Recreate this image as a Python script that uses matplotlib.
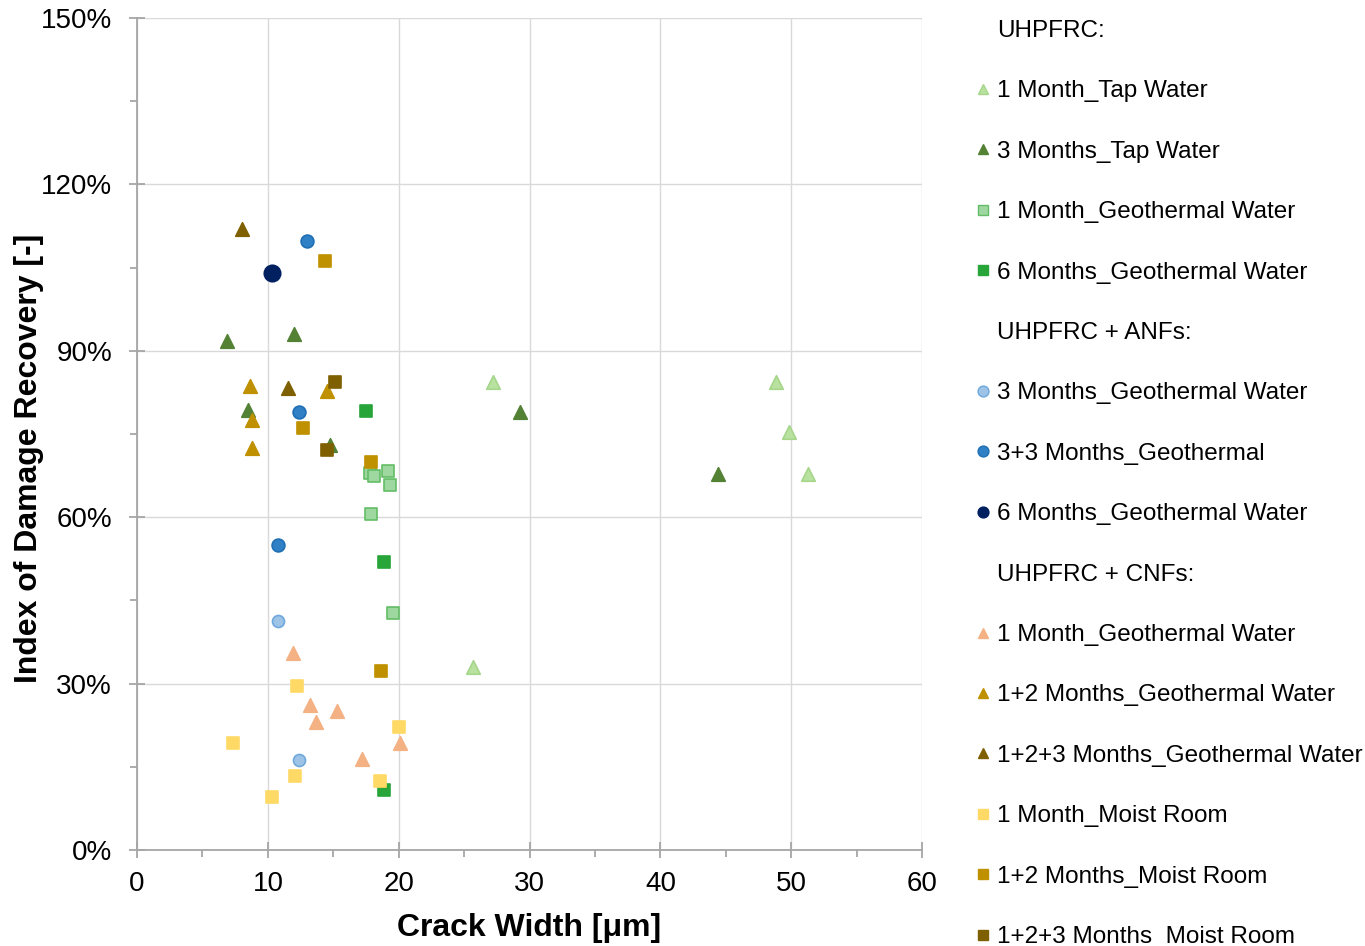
import matplotlib
matplotlib.use("Agg")
import matplotlib.pyplot as plt
from matplotlib.lines import Line2D
from matplotlib.ticker import MultipleLocator, FuncFormatter

plt.rcParams["font.family"] = ["Liberation Sans", "DejaVu Sans"]

# ---- data: crack width [um] vs. index of damage recovery [%] ----
# UHPFRC
tap1_x = [27.2, 48.8, 49.8, 51.3, 25.7]
tap1_y = [84.3, 84.3, 75.3, 67.8, 32.9]
tap3_x = [6.9, 12.0, 8.5, 14.75, 29.3, 44.4]
tap3_y = [91.7, 93.0, 79.4, 73.1, 79.0, 67.8]
geo1_x = [19.2, 17.8, 18.1, 19.35, 17.85, 19.55]
geo1_y = [68.4, 68.0, 67.4, 65.8, 60.5, 42.8]
geo6_x = [17.5, 18.9, 18.9]
geo6_y = [79.1, 52.0, 10.8]
# UHPFRC + ANFs
anf3_x = [10.75, 12.4]
anf3_y = [41.3, 16.3]
anf33_x = [13.0, 12.4, 10.75]
anf33_y = [109.8, 78.9, 54.9]
anf6_x = [10.3]
anf6_y = [104.1]
# UHPFRC + CNFs
cnf_geo1_x = [11.95, 13.2, 15.3, 13.65, 20.1, 17.2]
cnf_geo1_y = [35.5, 26.1, 25.1, 23.0, 19.2, 16.4]
cnf_geo12_x = [8.6, 14.5, 8.8, 8.8]
cnf_geo12_y = [83.7, 82.7, 77.6, 72.4]
cnf_geo123_x = [8.0, 11.55]
cnf_geo123_y = [111.9, 83.3]
cnf_moist1_x = [12.2, 20.05, 7.35, 12.1, 18.6, 10.3]
cnf_moist1_y = [29.6, 22.2, 19.2, 13.4, 12.4, 9.6]
cnf_moist12_x = [14.4, 12.65, 17.9, 18.65]
cnf_moist12_y = [106.2, 76.0, 69.9, 32.3]
cnf_moist123_x = [15.15, 14.55]
cnf_moist123_y = [84.4, 72.1]

# (x, y, label, marker, face, edge, size)
series = [
    (None, None, "UHPFRC:", None, None, None, None),
    (tap1_x, tap1_y, "1 Month_Tap Water", "^", "#b9e1a0", "#a6d68a", 95),
    (tap3_x, tap3_y, "3 Months_Tap Water", "^", "#548235", "#548235", 95),
    (geo1_x, geo1_y, "1 Month_Geothermal Water", "s", "#9fd7a0", "#62bd66", 80),
    (geo6_x, geo6_y, "6 Months_Geothermal Water", "s", "#28a539", "#28a539", 80),
    (None, None, "UHPFRC + ANFs:", None, None, None, None),
    (anf3_x, anf3_y, "3 Months_Geothermal Water", "o", "#9dc3e6", "#6fa8dc", 75),
    (anf33_x, anf33_y, "3+3 Months_Geothermal", "o", "#2f80c4", "#1f6fb5", 85),
    (anf6_x, anf6_y, "6 Months_Geothermal Water", "o", "#002060", "#002060", 140),
    (None, None, "UHPFRC + CNFs:", None, None, None, None),
    (cnf_geo1_x, cnf_geo1_y, "1 Month_Geothermal Water", "^", "#f4b183", "#f4b183", 95),
    (cnf_geo12_x, cnf_geo12_y, "1+2 Months_Geothermal Water", "^", "#bf9000", "#bf9000", 95),
    (cnf_geo123_x, cnf_geo123_y, "1+2+3 Months_Geothermal Water", "^", "#7f6000", "#7f6000", 95),
    (cnf_moist1_x, cnf_moist1_y, "1 Month_Moist Room", "s", "#ffd966", "#ffd966", 80),
    (cnf_moist12_x, cnf_moist12_y, "1+2 Months_Moist Room", "s", "#bf9000", "#bf9000", 80),
    (cnf_moist123_x, cnf_moist123_y, "1+2+3 Months_Moist Room", "s", "#7f6000", "#7f6000", 80),
]

fig = plt.figure(figsize=(13.65, 9.46), dpi=100)
ax = fig.add_axes([0.1004, 0.1015, 0.5751, 0.8795])

handles, labels = [], []
for xs, ys, lab, mk, fc, ec, s in series:
    if xs is None:
        handles.append(Line2D([], [], linestyle="none", marker=None))
    else:
        ax.scatter(xs, ys, marker=mk, s=s, facecolor=fc, edgecolor=ec,
                   linewidths=1.2, zorder=3)
        handles.append(Line2D([], [], linestyle="none", marker=mk,
                              markersize=7.8,
                              markerfacecolor=fc, markeredgecolor=ec,
                              markeredgewidth=1.0))
    labels.append(lab)

ax.set_xlim(0, 60)
ax.set_ylim(0, 150)
ax.xaxis.set_major_locator(MultipleLocator(10))
ax.xaxis.set_minor_locator(MultipleLocator(5))
ax.yaxis.set_major_locator(MultipleLocator(30))
ax.yaxis.set_minor_locator(MultipleLocator(15))
ax.yaxis.set_major_formatter(FuncFormatter(lambda v, p: f"{v:.0f}%"))

ax.grid(True, which="major", color="#d9d9d9", linewidth=1.0, zorder=0)
ax.set_axisbelow(True)
for side in ("top", "right"):
    ax.spines[side].set_visible(False)
for side in ("left", "bottom"):
    ax.spines[side].set_color("#a6a6a6")
    ax.spines[side].set_linewidth(1.3)

ax.tick_params(which="major", direction="inout", length=12, width=1.3,
               color="#a6a6a6", labelsize=20, labelcolor="black")
ax.tick_params(which="minor", direction="out", length=5, width=1.3,
               color="#a6a6a6")
ax.tick_params(axis="y", which="major", pad=12)
ax.tick_params(axis="x", which="major", pad=9)

ax.set_xlabel("Crack Width [μm]", fontsize=23, fontweight="bold", labelpad=12)
ax.set_ylabel("Index of Damage Recovery [-]", fontsize=23, fontweight="bold")
ax.yaxis.set_label_coords(-0.118, 0.471)

fig.legend(handles, labels, loc="upper left", bbox_to_anchor=(0.7145, 0.979),
           frameon=False, fontsize=17.5, labelspacing=1.58,
           handlelength=0.6, handletextpad=0.3, borderaxespad=0,
           borderpad=0)

fig.savefig("out.png", dpi=100)
